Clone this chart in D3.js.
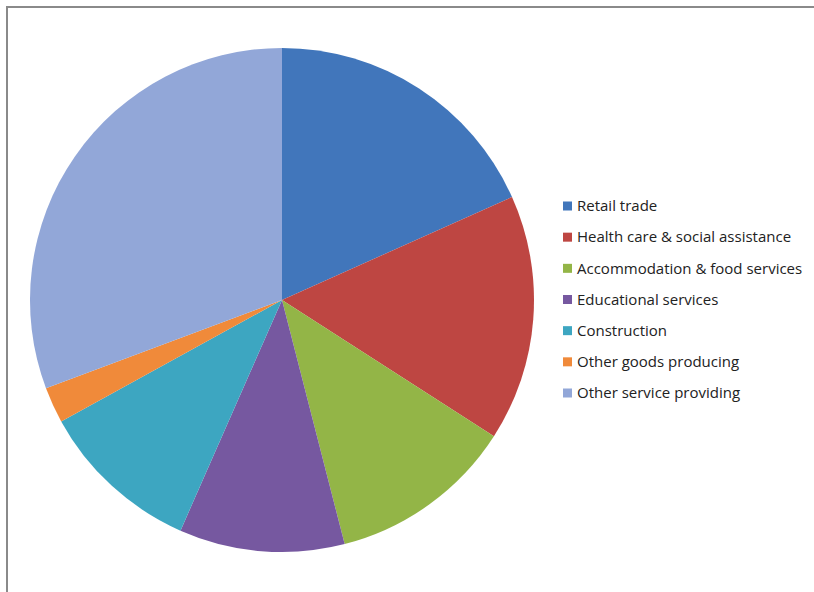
<!DOCTYPE html>
<html><head><meta charset="utf-8">
<script src="https://cdn.jsdelivr.net/npm/d3@7"></script>
<style>html,body{margin:0;padding:0;background:#fff;}svg{display:block;}</style>
</head><body>
<svg id="chart" width="814" height="592"></svg>
<script>
const categories = ["Retail trade","Health care & social assistance","Accommodation & food services","Educational services","Construction","Other goods producing","Other service providing"];
const shares = [18.3, 15.8, 11.9, 10.6, 10.4, 2.3, 30.7];
const colors = ["#4176BB","#BE4642","#93B547","#7658A0","#3DA6C1","#F08A3A","#92A7D8"];

const svg = d3.select("#chart");
// frame
svg.append("path").attr("d","M7,592 L7,7 L814,7").attr("fill","none").attr("stroke","#8a8a8a").attr("stroke-width",2);

const data = categories.map((c,i)=>({name:c, value:shares[i]}));
const pie = d3.pie().value(d=>d.value).sort(null);
const arc = d3.arc().innerRadius(0).outerRadius(252);
const color = d3.scaleOrdinal().domain(categories).range(colors);

const g = svg.append("g").attr("transform","translate(282,300)");
g.selectAll("path").data(pie(data)).join("path")
  .attr("d", arc).attr("fill", d=>color(d.data.name));

const y = d3.scalePoint().domain(categories).range([206, 393]);
const leg = svg.append("g");
const items = leg.selectAll("g").data(categories).join("g")
  .attr("transform", d=>`translate(563,${y(d)})`);
items.append("rect").attr("x",0).attr("y",-4.5).attr("width",9).attr("height",9).attr("fill", d=>color(d));
items.append("text").attr("x",14).attr("y",0).attr("dy","0.35em")
  .attr("font-family","Open Sans, sans-serif").attr("font-size",15).attr("fill","#222")
  .text(d=>d);
</script>
</body></html>
